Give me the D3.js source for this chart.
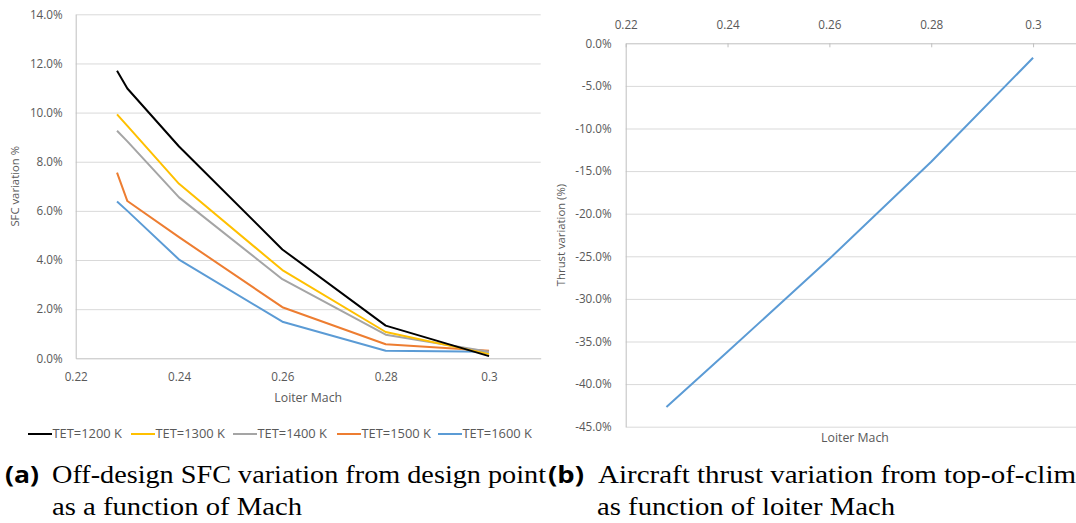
<!DOCTYPE html>
<html>
<head>
<meta charset="utf-8">
<script src="https://cdn.jsdelivr.net/npm/d3@7"></script>
<style>
  html, body { margin: 0; padding: 0; background: #ffffff; }
  svg { display: block; }
  .tick text, .lbl { font-family: "Open Sans", sans-serif; fill: #595959; }
  .cap { font-family: "Liberation Serif", "Times New Roman", "DejaVu Serif", serif; fill: #000; }
  .tag { font-family: "Open Sans", "DejaVu Sans", sans-serif; font-weight: 700; fill: #000; }
</style>
</head>
<body>
<svg id="fig" width="1076" height="523"></svg>
<script>
// ---- data ----
const mach = [0.228, 0.23, 0.24, 0.26, 0.28, 0.30];
const tet1200 = [11.70, 10.98, 8.62, 4.43, 1.33, 0.09];
const tet1300 = [9.93, 9.46, 7.10, 3.59, 1.07, 0.17];
const tet1400 = [9.26, 8.83, 6.55, 3.22, 0.96, 0.27];
const tet1500 = [7.56, 6.40, 4.93, 2.08, 0.57, 0.31];
const tet1600 = [6.38, 6.00, 4.02, 1.49, 0.31, 0.27];
const seriesNames = ["TET=1200 K", "TET=1300 K", "TET=1400 K", "TET=1500 K", "TET=1600 K"];
const seriesColors = ["#000000", "#FFC000", "#A5A5A5", "#ED7D31", "#5B9BD5"];

const thrustMach = [0.228, 0.24, 0.26, 0.28, 0.30];
const thrustVar = [-42.7, -36.2, -25.3, -13.9, -1.7];

const machTicks = [0.22, 0.24, 0.26, 0.28, 0.30];
const machTickLabels = ["0.22", "0.24", "0.26", "0.28", "0.3"];
const sfcTicks = [0, 2, 4, 6, 8, 10, 12, 14];
const thrustTicks = [0, -5, -10, -15, -20, -25, -30, -35, -40, -45];

const pct = v => (v < 0 ? "-" : "") + Math.abs(v).toFixed(1) + "%";
const machFmt = v => machTickLabels[machTicks.findIndex(t => Math.abs(t - v) < 1e-9)];

const svg = d3.select("#fig");

// ================= (a) SFC variation =================
const xA = d3.scaleLinear().domain([0.22, 0.31]).range([75.7, 540.7]);
const yA = d3.scaleLinear().domain([0, 14]).range([358.3, 14.3]);
const gA = svg.append("g");

// horizontal gridlines
gA.append("g")
  .attr("transform", `translate(${xA.range()[0]},0)`)
  .call(d3.axisLeft(yA).tickValues(sfcTicks.filter(v => v > 0)).tickSize(-(xA.range()[1] - xA.range()[0])).tickFormat(""))
  .call(g => g.select(".domain").remove())
  .call(g => g.selectAll("line").attr("stroke", "#D9D9D9").attr("stroke-width", 1));

// y axis labels
gA.append("g")
  .attr("transform", `translate(${xA.range()[0]},0)`)
  .call(d3.axisLeft(yA).tickValues(sfcTicks).tickSize(0).tickPadding(13).tickFormat(pct))
  .call(g => g.select(".domain").attr("stroke", "#BFBFBF"))
  .call(g => g.selectAll("text").style("font-size", "11.7px"));

// x axis
gA.append("g")
  .attr("transform", `translate(0,${yA(0)})`)
  .call(d3.axisBottom(xA).tickValues(machTicks).tickSize(0).tickFormat(machFmt))
  .call(g => g.select(".domain").attr("stroke", "#BFBFBF"))
  .call(g => g.selectAll("text").attr("y", 19).attr("dy", "0.35em").style("font-size", "11.7px"));

gA.append("text").attr("class", "lbl")
  .attr("x", (xA.range()[0] + xA.range()[1]) / 2).attr("y", 398).attr("dy", "0.35em")
  .attr("text-anchor", "middle").style("font-size", "12.3px").text("Loiter Mach");

gA.append("text").attr("class", "lbl")
  .attr("transform", `translate(15,${(yA(0) + yA(14)) / 2}) rotate(-90)`)
  .attr("dy", "0.35em").attr("text-anchor", "middle").style("font-size", "11.3px")
  .text("SFC variation %");

const sfcSeries = [tet1200, tet1300, tet1400, tet1500, tet1600];
const lineA = d3.line().x((d, i) => xA(mach[i])).y(d => yA(d));
gA.append("g").selectAll("path")
  .data(sfcSeries.map((vals, k) => ({ vals, k })).reverse())
  .join("path")
  .attr("d", d => lineA(d.vals))
  .attr("fill", "none")
  .attr("stroke", d => seriesColors[d.k])
  .attr("stroke-width", 2)
  .attr("stroke-linejoin", "round");

// legend
const legX = [28, 131, 233, 337, 438];
const leg = gA.append("g").attr("transform", "translate(0,434)");
seriesNames.forEach((name, k) => {
  leg.append("line").attr("x1", legX[k]).attr("x2", legX[k] + 24)
    .attr("y1", 0).attr("y2", 0).attr("stroke", seriesColors[k]).attr("stroke-width", 2);
  leg.append("text").attr("class", "lbl").attr("x", legX[k] + 24.5).attr("y", 0).attr("dy", "0.35em")
    .style("font-size", "12px").attr("textLength", 69.5).attr("lengthAdjust", "spacingAndGlyphs").text(name);
});

// ================= (b) Thrust variation =================
const xB = d3.scaleLinear().domain([0.22, 0.31]).range([625.7, 1084]);
const yB = d3.scaleLinear().domain([-45, 0]).range([426.7, 43.3]);
const gB = svg.append("g");

gB.append("g")
  .attr("transform", `translate(${xB.range()[0]},0)`)
  .call(d3.axisLeft(yB).tickValues(thrustTicks.filter(v => v < 0)).tickSize(-(xB.range()[1] - xB.range()[0])).tickFormat(""))
  .call(g => g.select(".domain").remove())
  .call(g => g.selectAll("line").attr("stroke", "#D9D9D9").attr("stroke-width", 1));

gB.append("g")
  .attr("transform", `translate(${xB.range()[0]},0)`)
  .call(d3.axisLeft(yB).tickValues(thrustTicks).tickSize(0).tickPadding(14).tickFormat(pct))
  .call(g => g.select(".domain").attr("stroke", "#BFBFBF"))
  .call(g => g.selectAll("text").style("font-size", "11.7px"));

// top x axis with inward ticks
gB.append("g")
  .attr("transform", `translate(0,${yB(0)})`)
  .call(d3.axisTop(xB).tickValues(machTicks).tickSize(0).tickFormat(machFmt))
  .call(g => g.select(".domain").attr("stroke", "#BFBFBF"))
  .call(g => g.selectAll(".tick line").attr("y2", 4).attr("stroke", "#BFBFBF"))
  .call(g => g.selectAll("text").attr("y", -18).attr("dy", "0.35em").style("font-size", "11.7px"));

gB.append("text").attr("class", "lbl")
  .attr("x", 855).attr("y", 438).attr("dy", "0.35em")
  .attr("text-anchor", "middle").style("font-size", "12.3px").text("Loiter Mach");

gB.append("text").attr("class", "lbl")
  .attr("transform", `translate(561,${(yB(0) + yB(-45)) / 2}) rotate(-90)`)
  .attr("dy", "0.35em").attr("text-anchor", "middle").style("font-size", "11.3px")
  .text("Thrust variation (%)");

gB.append("path")
  .datum(thrustVar)
  .attr("d", d3.line().x((d, i) => xB(thrustMach[i])).y(d => yB(d)))
  .attr("fill", "none").attr("stroke", "#5B9BD5").attr("stroke-width", 2)
  .attr("stroke-linejoin", "round");

// ================= captions =================
const cap = svg.append("g");
function tag(x, label, len) {
  cap.append("text").attr("class", "tag").attr("x", x).attr("y", 483)
    .style("font-size", "24px")
    .attr("textLength", len).attr("lengthAdjust", "spacingAndGlyphs").text(label);
}
function line(x, y, str, len) {
  cap.append("text").attr("class", "cap").attr("x", x).attr("y", y)
    .style("font-size", "24.5px")
    .attr("textLength", len).attr("lengthAdjust", "spacingAndGlyphs").text(str);
}
tag(5, "(a)", 34);
line(52, 483, "Off-design SFC variation from design point", 494);
line(52, 515, "as a function of Mach", 250);
tag(548, "(b)", 36);
line(598, 483, "Aircraft thrust variation from top-of-clim", 478);
line(597, 515, "as function of loiter Mach", 298);
</script>
</body>
</html>
